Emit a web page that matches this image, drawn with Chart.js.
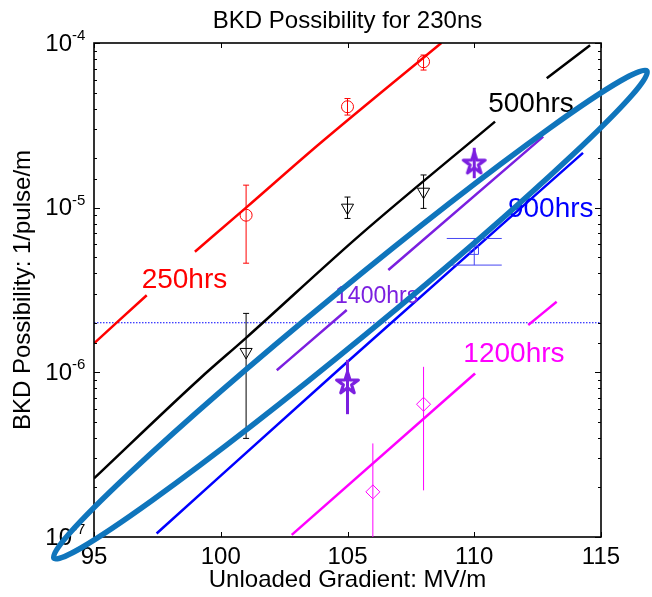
<!DOCTYPE html>
<html>
<head>
<meta charset="utf-8">
<title>BKD Possibility for 230ns</title>
<script src="https://cdn.jsdelivr.net/npm/chart.js@4.4.0/dist/chart.umd.min.js"></script>
<style>
    body { margin: 0; background: #ffffff; }
    canvas { display: block; }
</style>
</head>
<body>
<canvas id="bkdChart" width="652" height="597"></canvas>
<script>
// ==========================================
// DATA
// ==========================================

const xTickValues = [95, 100, 105, 110, 115];
const yTickValues = [1e-7, 1e-6, 1e-5, 1e-4];

// fitted curves (null = break in the line, where the label sits)
const fit250X = [95, 97.08, null, 98.98, 101, 103.92, 108.7];
const fit250Y = [1.5e-6, 2.94e-6, null, 5.4e-6, 1.0e-5, 2.46e-5, 1.0e-4];
const fit500X = [95, 99.18, 101, 105.49, 110.82, null, 112.86, 114.57];
const fit500Y = [2.27e-7, 9.18e-7, 1.62e-6, 6.81e-6, 3.33e-5, null, 6.1e-5, 9.7e-5];
const fit900X = [97.47, 105, 114.29];
const fit900Y = [1.05e-7, 1.16e-6, 2.15e-5];
const fit1400X = [102.21, 104.97, null, 106.61, 112.72];
const fit1400Y = [1.03e-6, 2.39e-6, null, 4.18e-6, 2.7e-5];
const fit1200X = [102.8, 110.03, null, 112.13, 113.25];
const fit1200Y = [1.03e-7, 9.84e-7, null, 1.94e-6, 2.68e-6];

// horizontal limit
const limitX = [95, 115];
const limitY = [2e-6, 2e-6];

// measurements with error bars
const meas250X = [101, 105, 108];
const meas250Y = [9.0e-6, 4.1e-5, 7.7e-5];
const meas250Lo = [4.6e-6, 3.65e-5, 6.85e-5];
const meas250Hi = [1.37e-5, 4.6e-5, 8.45e-5];

const meas500X = [101, 105, 108];
const meas500Y = [1.33e-6, 1.0e-5, 1.25e-5];
const meas500Lo = [3.97e-7, 8.6e-6, 9.9e-6];
const meas500Hi = [2.28e-6, 1.16e-5, 1.58e-5];

const meas1400X = [105, 110];
const meas1400Y = [8.55e-7, 1.85e-5];
const meas1400Lo = [5.57e-7, 1.51e-5];
const meas1400Hi = [1.19e-6, 2.31e-5];

const meas900X = [110];
const meas900Y = [5.52e-6];
const meas900Lo = [4.48e-6];
const meas900Hi = [6.5e-6];

const meas1200X = [106, 108];
const meas1200Y = [1.88e-7, 6.4e-7];
const meas1200Lo = [6e-9, 1.92e-7];
const meas1200Hi = [3.7e-7, 1.08e-6];

// annotations
const curveLabels = [
    { text: '250hrs',  x: 96.88,  y: 3.24e-6, color: '#ff0000', size: 28 },
    { text: '500hrs',  x: 110.55, y: 3.83e-5, color: '#000000', size: 28 },
    { text: '900hrs',  x: 111.33, y: 8.8e-6,  color: '#0000ff', size: 28 },
    { text: '1400hrs', x: 104.51, y: 2.62e-6, color: '#7b1fe0', size: 23 },
    { text: '1200hrs', x: 109.57, y: 1.16e-6, color: '#ff00ff', size: 28 }
];

// ellipse annotation: the two tips of its long axis
const ellipseTipX = [93.42, 116.81];
const ellipseTipY = [7.43e-8, 6.76e-5];

// ==========================================
// HELPERS
// ==========================================

const FONT = '"Liberation Sans", Arial, sans-serif';

function toPoints(xs, ys) {
    return xs.map((x, i) => ({ x: x, y: ys[i] }));
}

function isPow10(v) {
    const l = Math.log10(v);
    return Math.abs(l - Math.round(l)) < 1e-9;
}

function makeStar(size, color, lw) {
    const c = document.createElement('canvas');
    c.width = size;
    c.height = size;
    const g = c.getContext('2d');
    const R = size / 2 - lw / 2 - 0.5;
    const r = R * 0.38;
    g.beginPath();
    for (let k = 0; k < 10; k++) {
        const rad = k % 2 ? r : R;
        const t = -Math.PI / 2 + k * Math.PI / 5;
        g.lineTo(size / 2 + rad * Math.cos(t), size / 2 + rad * Math.sin(t));
    }
    g.closePath();
    g.lineWidth = lw;
    g.lineJoin = 'round';
    g.strokeStyle = color;
    g.stroke();
    return c;
}

function fitLine(xs, ys, color) {
    return {
        data: toPoints(xs, ys),
        showLine: true,
        spanGaps: false,
        cubicInterpolationMode: 'monotone',
        borderColor: color,
        borderWidth: 2.5,
        pointRadius: 0
    };
}

function measSet(xs, ys, lo, hi, color, style, extra) {
    return Object.assign({
        data: toPoints(xs, ys),
        showLine: false,
        pointStyle: style,
        pointRadius: 6,
        borderColor: color,
        backgroundColor: 'rgba(0,0,0,0)',
        pointBorderWidth: 1,
        errLo: lo,
        errHi: hi,
        errWidth: 1,
        capHalf: 3
    }, extra || {});
}

// ==========================================
// PLUGINS
// ==========================================

// box and inward ticks, matlab style
const axesBox = {
    id: 'axesBox',
    afterDatasetsDraw(chart) {
        const { ctx, chartArea: a, scales: { x, y } } = chart;
        ctx.save();
        ctx.strokeStyle = '#000';
        ctx.lineWidth = 1;
        ctx.beginPath();
        x.ticks.forEach(t => {
            const px = Math.round(x.getPixelForValue(t.value)) + 0.5;
            ctx.moveTo(px, a.bottom); ctx.lineTo(px, a.bottom - 5);
            ctx.moveTo(px, a.top); ctx.lineTo(px, a.top + 5);
        });
        y.ticks.forEach(t => {
            const py = Math.round(y.getPixelForValue(t.value)) + 0.5;
            const len = isPow10(t.value) ? 6 : 3;
            ctx.moveTo(a.left, py); ctx.lineTo(a.left + len, py);
            ctx.moveTo(a.right, py); ctx.lineTo(a.right - len, py);
        });
        ctx.stroke();
        ctx.lineWidth = 1.6;
        ctx.strokeRect(a.left, a.top, a.right - a.left, a.bottom - a.top);
        ctx.restore();
    }
};

// vertical error bars from errLo / errHi
const errorBars = {
    id: 'errorBars',
    afterDatasetsDraw(chart) {
        const { ctx, chartArea: a, scales: { x, y } } = chart;
        ctx.save();
        ctx.beginPath();
        ctx.rect(a.left, a.top, a.right - a.left, a.bottom - a.top);
        ctx.clip();
        chart.data.datasets.forEach(ds => {
            if (!ds.errLo) return;
            ctx.strokeStyle = ds.borderColor;
            ctx.lineWidth = ds.errWidth;
            ds.data.forEach((p, i) => {
                const px = x.getPixelForValue(p.x);
                const lo = y.getPixelForValue(ds.errLo[i]);
                const hi = y.getPixelForValue(ds.errHi[i]);
                ctx.beginPath();
                ctx.moveTo(px, lo); ctx.lineTo(px, hi);
                if (ds.capHalf) {
                    ctx.moveTo(px - ds.capHalf, lo); ctx.lineTo(px + ds.capHalf, lo);
                    ctx.moveTo(px - ds.capHalf, hi); ctx.lineTo(px + ds.capHalf, hi);
                }
                ctx.stroke();
            });
        });
        ctx.restore();
    }
};

// text labels beside the curves
const curveText = {
    id: 'curveText',
    afterDatasetsDraw(chart) {
        const { ctx, scales: { x, y } } = chart;
        ctx.save();
        ctx.textAlign = 'left';
        ctx.textBaseline = 'alphabetic';
        curveLabels.forEach(l => {
            ctx.font = l.size + 'px ' + FONT;
            ctx.fillStyle = l.color;
            ctx.fillText(l.text, x.getPixelForValue(l.x), y.getPixelForValue(l.y));
        });
        ctx.restore();
    }
};

// 10^n labels for the log axis
const powerLabels = {
    id: 'powerLabels',
    afterDraw(chart) {
        const { ctx, chartArea: a, scales: { y } } = chart;
        ctx.save();
        ctx.fillStyle = '#000';
        yTickValues.forEach(v => {
            const py = y.getPixelForValue(v);
            const e = Math.round(Math.log10(v));
            ctx.font = '24px ' + FONT;
            ctx.textAlign = 'right';
            ctx.textBaseline = 'middle';
            ctx.fillText('10', a.left - 22, py + 1);
            ctx.font = '15px ' + FONT;
            ctx.textAlign = 'left';
            ctx.textBaseline = 'alphabetic';
            ctx.fillText(String(e), a.left - 22, py - 3);
        });
        ctx.restore();
    }
};

// big highlight ellipse, drawn over everything
const ellipseNote = {
    id: 'ellipseNote',
    afterDraw(chart) {
        const { ctx, scales: { x, y } } = chart;
        const x1 = x.getPixelForValue(ellipseTipX[0]);
        const y1 = y.getPixelForValue(ellipseTipY[0]);
        const x2 = x.getPixelForValue(ellipseTipX[1]);
        const y2 = y.getPixelForValue(ellipseTipY[1]);
        const semiMajor = Math.hypot(x2 - x1, y2 - y1) / 2;
        ctx.save();
        ctx.beginPath();
        ctx.ellipse((x1 + x2) / 2, (y1 + y2) / 2, semiMajor, 25, Math.atan2(y2 - y1, x2 - x1), 0, 2 * Math.PI);
        ctx.lineWidth = 5.5;
        ctx.strokeStyle = '#0f75bc';
        ctx.stroke();
        ctx.restore();
    }
};

// ==========================================
// CHART
// ==========================================

Chart.defaults.font.family = FONT;
Chart.defaults.color = '#000';

const starStyle = makeStar(27, '#7b1fe0', 3.2);

const ctx = document.getElementById('bkdChart').getContext('2d');

new Chart(ctx, {
    type: 'scatter',
    data: {
        datasets: [
            measSet(meas250X, meas250Y, meas250Lo, meas250Hi, '#ff0000', 'circle'),
            measSet(meas500X, meas500Y, meas500Lo, meas500Hi, '#000000', 'triangle', { rotation: 180, pointRadius: 7 }),
            measSet(meas1400X, meas1400Y, meas1400Lo, meas1400Hi, '#7b1fe0', starStyle, { errWidth: 3, capHalf: 0 }),
            measSet(meas900X, meas900Y, meas900Lo, meas900Hi, '#4646f2', 'rect', { pointRadius: 6, capHalf: 27.5 }),
            measSet(meas1200X, meas1200Y, meas1200Lo, meas1200Hi, '#ff00ff', 'rectRot', { pointRadius: 7, capHalf: 0 }),
            fitLine(fit250X, fit250Y, '#ff0000'),
            fitLine(fit500X, fit500Y, '#000000'),
            fitLine(fit900X, fit900Y, '#0000ff'),
            fitLine(fit1400X, fit1400Y, '#7b1fe0'),
            fitLine(fit1200X, fit1200Y, '#ff00ff'),
            {
                data: toPoints(limitX, limitY),
                showLine: true,
                borderColor: '#0000ff',
                borderWidth: 1,
                borderDash: [1.5, 1.5],
                pointRadius: 0
            }
        ]
    },
    options: {
        responsive: false,
        animation: false,
        events: [],
        layout: {
            padding: { left: 0, right: 51, top: 0, bottom: 0 }
        },
        plugins: {
            legend: { display: false },
            tooltip: { enabled: false },
            title: {
                display: true,
                fullSize: false,
                text: 'BKD Possibility for 230ns',
                color: '#000',
                font: { size: 24, weight: 'normal' },
                padding: { top: 6.5, bottom: 7.7 }
            }
        },
        scales: {
            x: {
                type: 'linear',
                min: 95,
                max: 115,
                afterBuildTicks: scale => {
                    scale.ticks = xTickValues.map(v => ({ value: v }));
                },
                ticks: {
                    font: { size: 24 },
                    color: '#000',
                    padding: 6,
                    maxRotation: 0
                },
                grid: { display: false, drawTicks: false },
                border: { display: false },
                title: {
                    display: true,
                    text: 'Unloaded Gradient: MV/m',
                    color: '#000',
                    font: { size: 24 },
                    padding: { top: 0, bottom: 2.5 }
                },
                afterFit: scale => { scale.height = 60; }
            },
            y: {
                type: 'logarithmic',
                min: 1e-7,
                max: 1e-4,
                ticks: {
                    autoSkip: false,
                    callback: () => ''
                },
                grid: { display: false, drawTicks: false },
                border: { display: false },
                title: {
                    display: true,
                    text: 'BKD Possibility: 1/pulse/m',
                    color: '#000',
                    font: { size: 24 },
                    padding: { top: 8.5, bottom: 0 }
                },
                afterFit: scale => { scale.width = 94; }
            }
        }
    },
    plugins: [axesBox, errorBars, curveText, powerLabels, ellipseNote]
});
</script>
</body>
</html>
